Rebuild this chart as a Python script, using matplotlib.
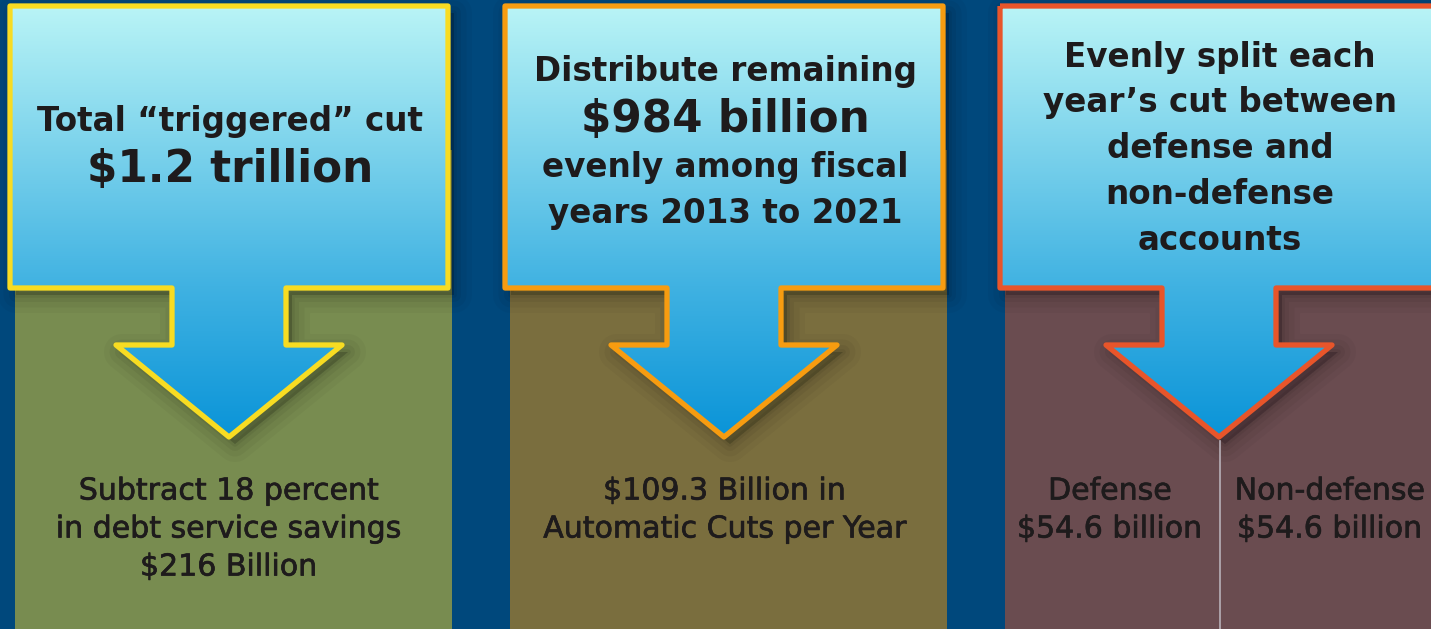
import matplotlib
matplotlib.use("Agg")
import matplotlib.pyplot as plt
import matplotlib.patheffects as pe
import numpy as np
from matplotlib.colors import LinearSegmentedColormap
from matplotlib.patches import Polygon, Rectangle

# Content of the three steps
box_lines = [
    ["Total “triggered” cut"],
    ["Distribute remaining", "evenly among fiscal", "years 2013 to 2021"],
    ["Evenly split each", "year’s cut between", "defense and", "non-defense", "accounts"],
]
headline_amounts = ["$1.2 trillion", "$984 billion", None]
result_lines = [
    ["Subtract 18 percent", "in debt service savings", "$216 Billion"],
    ["$109.3 Billion in", "Automatic Cuts per Year"],
]
split_labels = ["Defense", "Non-defense"]
split_amounts = ["$54.6 billion", "$54.6 billion"]

border_colors = ["#f8dc22", "#f79c10", "#e8552a"]
column_colors = ["#788c50", "#7a6e3e", "#6a4c50"]
bg_color = "#00487c"
text_color = "#1e1b1c"

W, H = 1431, 629
fig = plt.figure(figsize=(W / 100, H / 100), dpi=100)
fig.patch.set_facecolor(bg_color)
ax = fig.add_axes([0, 0, 1, 1])
ax.set_facecolor(bg_color)
ax.axis("off")

# layout (pixels)
box_left = [10, 505, 1000]
box_w, box_top, box_bot = 438, 6, 288
shaft_half, head_top, head_half, tip_y = 57, 345, 113, 437

grad = LinearSegmentedColormap.from_list(
    "sky", [(0, "#b9f4f6"), (0.65, "#40b2e2"), (1, "#0a94d8")]
)
gvals = np.linspace(0, 1, 256).reshape(-1, 1)

for i, x0 in enumerate(box_left):
    cx = x0 + box_w / 2
    # column under the box
    ax.add_patch(Rectangle((x0 + 5, 150), box_w - 1, H - 150, facecolor=column_colors[i],
                           edgecolor="none", zorder=1))

    pts = [
        (x0, box_top), (x0 + box_w, box_top), (x0 + box_w, box_bot),
        (cx + shaft_half, box_bot), (cx + shaft_half, head_top),
        (cx + head_half, head_top), (cx, tip_y), (cx - head_half, head_top),
        (cx - shaft_half, head_top), (cx - shaft_half, box_bot), (x0, box_bot),
    ]
    # soft shadow
    for lw, a in [(26, 0.03), (18, 0.04), (10, 0.05), (4, 0.06)]:
        sh = Polygon([(x + 6, y + 7) for x, y in pts], closed=True, facecolor="black",
                     edgecolor="black", linewidth=lw, alpha=a, joinstyle="round", zorder=2)
        ax.add_patch(sh)

    shape = Polygon(pts, closed=True, facecolor="none", edgecolor="none", zorder=3)
    ax.add_patch(shape)
    img = ax.imshow(gvals, cmap=grad, aspect="auto", origin="upper",
                    extent=(x0, x0 + box_w, tip_y, box_top), zorder=3)
    img.set_clip_path(shape)
    ax.add_patch(Polygon(pts, closed=True, facecolor="none", edgecolor=border_colors[i],
                         linewidth=3.8, joinstyle="round", zorder=4))

# box texts
kw = dict(ha="center", va="center", color=text_color, parse_math=False, zorder=5,
          family="DejaVu Sans")
thin = [pe.withStroke(linewidth=0.5, foreground=text_color)]

ax.text(230, 121, box_lines[0][0], fontsize=23.5, fontweight="bold", **kw)
ax.text(230, 169, headline_amounts[0], fontsize=31.5, fontweight="bold", **kw)

ax.text(725, 71, box_lines[1][0], fontsize=23.5, fontweight="bold", **kw)
ax.text(725, 120, headline_amounts[1], fontsize=31.5, fontweight="bold", **kw)
ax.text(725, 168, box_lines[1][1], fontsize=23.5, fontweight="bold", **kw)
ax.text(725, 214, box_lines[1][2], fontsize=23.5, fontweight="bold", **kw)

for j, line in enumerate(box_lines[2]):
    ax.text(1220, 57 + j * 45.8, line, fontsize=23.5, fontweight="bold", **kw)

# results under the arrows
for j, line in enumerate(result_lines[0]):
    ax.text(229, 491 + j * 38, line, fontsize=21.6, path_effects=thin, **kw)
for j, line in enumerate(result_lines[1]):
    ax.text(725, 491 + j * 38, line, fontsize=21.6, path_effects=thin, **kw)

ax.plot([1220, 1220], [tip_y + 4, H], color="#b8b0b8", linewidth=1.2, zorder=2)
for j, cx in enumerate([1110, 1330]):
    ax.text(cx, 491, split_labels[j], fontsize=21.6, path_effects=thin, **kw)
    ax.text(cx, 529, split_amounts[j], fontsize=21.6, path_effects=thin, **kw)

ax.set_xlim(0, W)
ax.set_ylim(H, 0)
fig.savefig("out.png", dpi=100, facecolor=bg_color)
